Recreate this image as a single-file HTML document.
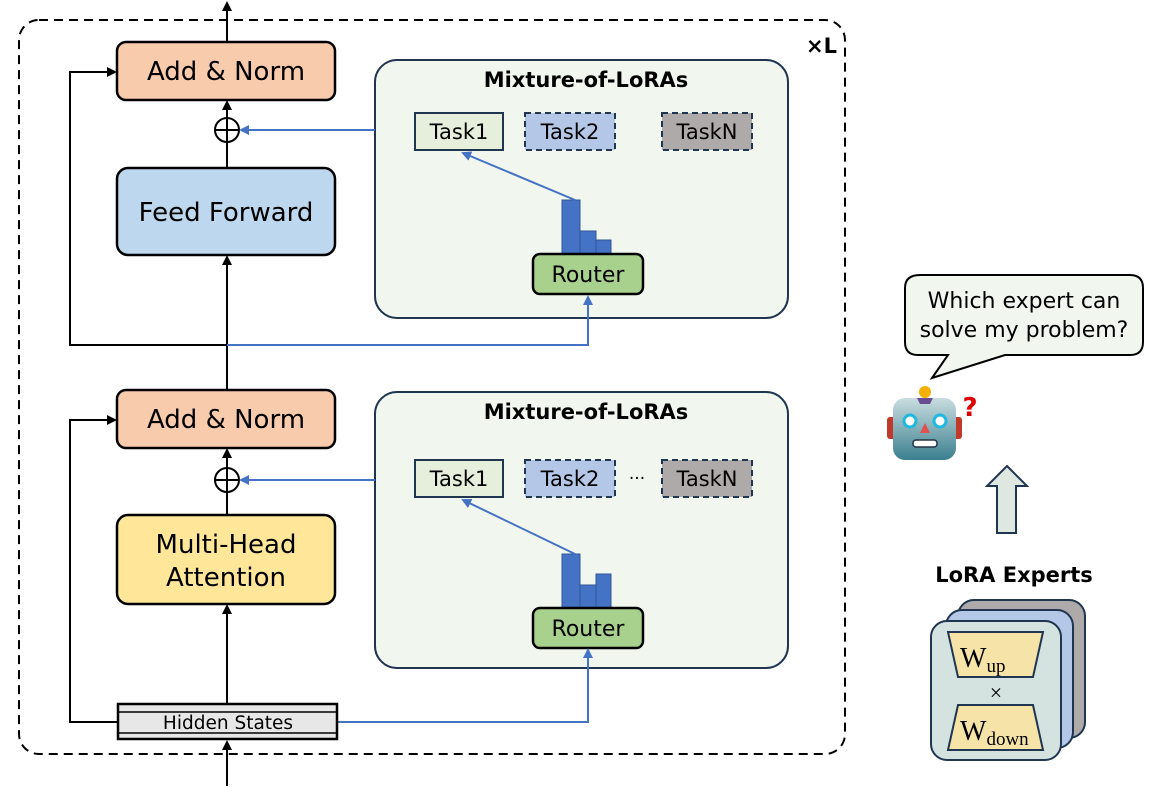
<!DOCTYPE html>
<html><head><meta charset="utf-8"><style>body{margin:0;background:#fff}svg{display:block}text{font-family:"DejaVu Sans","Liberation Sans",sans-serif}text.serif{font-family:"Liberation Serif",serif}</style></head><body>
<svg width="1162" height="788" viewBox="0 0 1162 788" xmlns="http://www.w3.org/2000/svg">
<defs>
<marker id="ak" markerWidth="10" markerHeight="10" refX="8" refY="5" orient="auto" markerUnits="userSpaceOnUse"><path d="M0,0 L10,5 L0,10 z" fill="#000"/></marker>
<marker id="ab" markerWidth="10" markerHeight="10" refX="8" refY="5" orient="auto" markerUnits="userSpaceOnUse"><path d="M0,0 L10,5 L0,10 z" fill="#4472c4"/></marker>
<linearGradient id="rg" x1="0" y1="0" x2="0" y2="1"><stop offset="0" stop-color="#c9dde0"/><stop offset="1" stop-color="#3b7f8f"/></linearGradient>
</defs>
<rect x="19" y="20" width="826" height="734" rx="20" fill="none" stroke="#000" stroke-width="2" stroke-dasharray="9,6"/>
<text x="806" y="53" font-size="21" font-weight="bold">×L</text>

<line x1="227" y1="42" x2="227" y2="3" stroke="#000" stroke-width="2" marker-end="url(#ak)"/>
<rect x="117" y="42" width="218" height="58" rx="9" fill="#f8cbad" stroke="#000" stroke-width="2.5"/>
<text x="226" y="80" font-size="26" text-anchor="middle">Add &amp; Norm</text>
<line x1="227" y1="118" x2="227" y2="102" stroke="#000" stroke-width="2" marker-end="url(#ak)"/>
<circle cx="227" cy="130" r="12" fill="#fff" stroke="#000" stroke-width="2"/>
<line x1="215" y1="130" x2="239" y2="130" stroke="#000" stroke-width="2"/><line x1="227" y1="118" x2="227" y2="142" stroke="#000" stroke-width="2"/>
<line x1="227" y1="168" x2="227" y2="142" stroke="#000" stroke-width="2"/>
<rect x="117" y="168" width="218" height="87" rx="11" fill="#bdd7ee" stroke="#000" stroke-width="2.5"/>
<text x="226" y="221" font-size="26" text-anchor="middle">Feed Forward</text>
<line x1="227" y1="390" x2="227" y2="257" stroke="#000" stroke-width="2" marker-end="url(#ak)"/>
<polyline points="227,345 70,345 70,72 115,72" fill="none" stroke="#000" stroke-width="2" marker-end="url(#ak)"/>

<rect x="375" y="60" width="413" height="258" rx="22" fill="#f1f7ef" stroke="#1f3550" stroke-width="2"/>
<text x="586" y="87" font-size="21" font-weight="bold" text-anchor="middle">Mixture-of-LoRAs</text>
<rect x="415" y="113" width="88" height="37" fill="#e6efdc" stroke="#1f3550" stroke-width="2"/>
<text x="459" y="139" font-size="21" text-anchor="middle">Task1</text>
<rect x="525" y="113" width="90" height="37" fill="#b4c7e7" stroke="#1f3550" stroke-width="2" stroke-dasharray="6,4"/>
<text x="570" y="139" font-size="21" text-anchor="middle">Task2</text>
<rect x="662" y="113" width="90" height="37" fill="#aeaaaa" stroke="#1f3550" stroke-width="2" stroke-dasharray="6,4"/>
<text x="707" y="139" font-size="21" text-anchor="middle">TaskN</text>
<rect x="562" y="200" width="18" height="54" fill="#4472c4" stroke="#2f5597"/>
<rect x="580" y="231" width="16" height="23" fill="#4472c4" stroke="#2f5597"/>
<rect x="596" y="240" width="15" height="14" fill="#4472c4" stroke="#2f5597"/>
<line x1="575" y1="200" x2="463" y2="153" stroke="#4472c4" stroke-width="2" marker-end="url(#ab)"/>
<rect x="533" y="254" width="110" height="40" rx="7" fill="#a9d18e" stroke="#000" stroke-width="2.5"/>
<text x="588" y="282" font-size="22" text-anchor="middle">Router</text>
<polyline points="227,345 588,345 588,297" fill="none" stroke="#4472c4" stroke-width="2" marker-end="url(#ab)"/>
<line x1="375" y1="130" x2="241" y2="130" stroke="#4472c4" stroke-width="2" marker-end="url(#ab)"/>

<rect x="117" y="390" width="218" height="58" rx="9" fill="#f8cbad" stroke="#000" stroke-width="2.5"/>
<text x="226" y="428" font-size="26" text-anchor="middle">Add &amp; Norm</text>
<line x1="227" y1="468" x2="227" y2="450" stroke="#000" stroke-width="2" marker-end="url(#ak)"/>
<circle cx="227" cy="480" r="12" fill="#fff" stroke="#000" stroke-width="2"/>
<line x1="215" y1="480" x2="239" y2="480" stroke="#000" stroke-width="2"/><line x1="227" y1="468" x2="227" y2="492" stroke="#000" stroke-width="2"/>
<line x1="227" y1="515" x2="227" y2="492" stroke="#000" stroke-width="2"/>
<rect x="117" y="515" width="218" height="89" rx="11" fill="#ffe699" stroke="#000" stroke-width="2.5"/>
<text x="226" y="553" font-size="26" text-anchor="middle">Multi-Head</text>
<text x="226" y="586" font-size="26" text-anchor="middle">Attention</text>
<line x1="227" y1="703" x2="227" y2="606" stroke="#000" stroke-width="2" marker-end="url(#ak)"/>
<polyline points="118,722 70,722 70,420 115,420" fill="none" stroke="#000" stroke-width="2" marker-end="url(#ak)"/>

<rect x="375" y="392" width="413" height="276" rx="22" fill="#f1f7ef" stroke="#1f3550" stroke-width="2"/>
<text x="586" y="419" font-size="21" font-weight="bold" text-anchor="middle">Mixture-of-LoRAs</text>
<rect x="415" y="460" width="88" height="37" fill="#e6efdc" stroke="#1f3550" stroke-width="2"/>
<text x="459" y="486" font-size="21" text-anchor="middle">Task1</text>
<rect x="525" y="460" width="90" height="37" fill="#b4c7e7" stroke="#1f3550" stroke-width="2" stroke-dasharray="6,4"/>
<text x="570" y="486" font-size="21" text-anchor="middle">Task2</text>
<text x="637" y="484" font-size="17" text-anchor="middle">···</text>
<rect x="662" y="460" width="90" height="37" fill="#aeaaaa" stroke="#1f3550" stroke-width="2" stroke-dasharray="6,4"/>
<text x="707" y="486" font-size="21" text-anchor="middle">TaskN</text>
<rect x="562" y="554" width="18" height="54" fill="#4472c4" stroke="#2f5597"/>
<rect x="580" y="585" width="16" height="23" fill="#4472c4" stroke="#2f5597"/>
<rect x="596" y="574" width="15" height="34" fill="#4472c4" stroke="#2f5597"/>
<line x1="575" y1="554" x2="463" y2="500" stroke="#4472c4" stroke-width="2" marker-end="url(#ab)"/>
<rect x="533" y="608" width="110" height="40" rx="7" fill="#a9d18e" stroke="#000" stroke-width="2.5"/>
<text x="588" y="636" font-size="22" text-anchor="middle">Router</text>
<polyline points="337,722 588,722 588,650" fill="none" stroke="#4472c4" stroke-width="2" marker-end="url(#ab)"/>
<line x1="375" y1="480" x2="241" y2="480" stroke="#4472c4" stroke-width="2" marker-end="url(#ab)"/>

<rect x="118" y="704" width="219" height="35" fill="#e7e7e7" stroke="#000" stroke-width="2.5"/>
<line x1="118" y1="712" x2="337" y2="712" stroke="#000" stroke-width="1.5"/>
<line x1="118" y1="733" x2="337" y2="733" stroke="#000" stroke-width="1.5"/>
<text x="228" y="729" font-size="18.5" text-anchor="middle">Hidden States</text>
<line x1="227" y1="786" x2="227" y2="742" stroke="#000" stroke-width="2" marker-end="url(#ak)"/>

<path d="M920,275 H1130 Q1143,275 1143,288 V342 Q1143,355 1130,355 H1005 L932,378 L948,355 H918 Q905,355 905,342 V288 Q905,275 920,275 Z" fill="#f1f7ef" stroke="#000" stroke-width="2"/>
<text x="1024" y="308" font-size="22" text-anchor="middle">Which expert can</text>
<text x="1024" y="337" font-size="22" text-anchor="middle">solve my problem?</text>
<rect x="887" y="417" width="9" height="22" rx="3" fill="#c0392b"/>
<rect x="953" y="417" width="9" height="22" rx="3" fill="#c0392b"/>
<rect x="893" y="398" width="63" height="62" rx="12" fill="url(#rg)"/>
<path d="M917,398 h16 l-3,6 h-10 z" fill="#6a4c93"/>
<circle cx="925" cy="392" r="6" fill="#f5b000"/>
<circle cx="910" cy="421" r="6" fill="#fff" stroke="#1fb8e0" stroke-width="3"/>
<circle cx="940" cy="421" r="6" fill="#fff" stroke="#1fb8e0" stroke-width="3"/>
<path d="M925,423 l5,10 h-10 z" fill="#e05050"/>
<rect x="913" y="440" width="24" height="7" rx="3" fill="#fff" stroke="#234" stroke-width="1.5"/>
<text x="970" y="416" font-size="26" font-weight="bold" fill="#e00000" text-anchor="middle">?</text>
<path d="M1007,466 L1027,486 H1016 V533 H997 V486 H987 Z" fill="#dfe8e0" stroke="#1f3550" stroke-width="2"/>
<text x="1014" y="582" font-size="21" font-weight="bold" text-anchor="middle">LoRA Experts</text>
<rect x="958" y="600" width="127" height="138" rx="16" fill="#aeaaaa" stroke="#1f3550" stroke-width="2"/>
<rect x="946" y="610" width="127" height="138" rx="16" fill="#b4c7e7" stroke="#1f3550" stroke-width="2"/>
<rect x="931" y="621" width="130" height="139" rx="16" fill="#d5e3e0" stroke="#1f3550" stroke-width="2"/>
<path d="M948,632 H1043 L1033,677 H958 Z" fill="#f6e3a8" stroke="#1f3550" stroke-width="2"/>
<text class="serif" x="960" y="667" font-size="28">W<tspan font-size="19" dy="5">up</tspan></text>
<text class="serif" x="996" y="700" font-size="22" text-anchor="middle">×</text>
<path d="M958,705 H1033 L1043,750 H948 Z" fill="#f6e3a8" stroke="#1f3550" stroke-width="2"/>
<text class="serif" x="960" y="740" font-size="28">W<tspan font-size="19" dy="5">down</tspan></text>
</svg>
</body></html>
